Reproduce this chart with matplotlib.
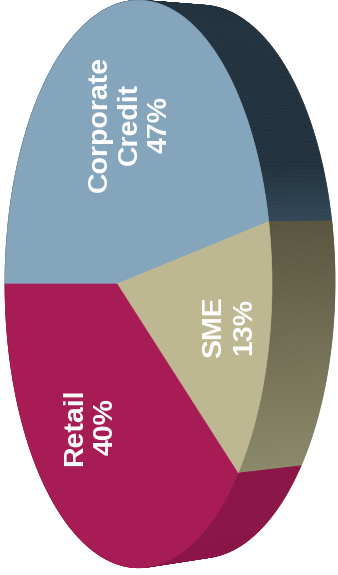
import matplotlib
matplotlib.use("Agg")
import matplotlib.pyplot as plt
from matplotlib.patches import Polygon
from matplotlib.collections import PolyCollection
from matplotlib.colors import to_rgb
import numpy as np

# Portfolio split
segments = ["Corporate\nCredit", "SME", "Retail"]
shares = [47, 13, 40]
face_colors = ["#85a5bd", "#bdb892", "#a81c55"]
# side wall shading: (upper colour, lower colour, y where fade starts, y where it ends)
wall_shading = [("#22333f", "#34495a", 165, 225),
                ("#5a553f", "#8d8b6c", 225, 478),
                ("#8a1546", "#8a1546", 0, 1)]

# label anchors in pie polar coords (angle deg, fraction of radius)
label_polar = [(80, 0.57), (-10, 0.77), (-112, 0.57)]

# geometry of the tilted pie, in pixels
CX, CY = 117, 284       # apex of the slices
RX, RY = 130, 280       # radii before perspective
K = 0.161               # perspective: near (right) side looks bigger
DEPTH_DX = 63           # extrusion to the right
BACK_Y0, BACK_S = 190, 0.974
START = 180             # first slice starts pointing left, runs clockwise


def project(theta, r=1.0):
    t = np.radians(theta)
    u = r * np.cos(t)
    v = r * np.sin(t)
    w = 1 - K * u
    return CX + RX * u / w, CY - RY * v / w


def to_back(x, y):
    return x + DEPTH_DX, BACK_Y0 + BACK_S * (y - BACK_Y0)


def shade(spec, y):
    c1, c2, y1, y2 = spec
    f = np.clip((y - y1) / (y2 - y1), 0, 1)
    a = np.array(to_rgb(c1))
    b = np.array(to_rgb(c2))
    return tuple(a + (b - a) * f)


W, H = 338, 575
fig = plt.figure(figsize=(W / 100, H / 100), dpi=100)
ax = fig.add_axes([0, 0, 1, 1])
ax.set_xlim(0, W)
ax.set_ylim(H, 0)
ax.axis("off")

bounds = START - 360 * np.concatenate([[0], np.cumsum(shares)]) / 100.0

# side walls first, the top face covers the hidden parts
for i in range(len(shares)):
    th = np.linspace(bounds[i], bounds[i + 1], 240)
    fx, fy = project(th)
    bx, by = to_back(fx, fy)
    quads = []
    cols = []
    for j in range(len(th) - 1):
        quads.append([(fx[j], fy[j]), (fx[j + 1], fy[j + 1]),
                      (bx[j + 1], by[j + 1]), (bx[j], by[j])])
        ym = (fy[j] + fy[j + 1] + by[j] + by[j + 1]) / 4
        cols.append(shade(wall_shading[i], ym))
    pc = PolyCollection(quads, facecolors=cols, edgecolors=cols, linewidths=0.6, zorder=1)
    ax.add_collection(pc)

# top face
for i in range(len(shares)):
    th = np.linspace(bounds[i], bounds[i + 1], 240)
    fx, fy = project(th)
    pts = [(CX, CY)] + list(zip(fx, fy))
    ax.add_patch(Polygon(pts, closed=True, facecolor=face_colors[i],
                         edgecolor=face_colors[i], linewidth=0.5, zorder=2))

for name, share, (ang, r) in zip(segments, shares, label_polar):
    lx, ly = project(ang, r)
    ax.text(lx, ly, f"{name}\n{share}%", rotation=90, ha="center", va="center",
            multialignment="center", color="white", fontsize=20.5,
            fontweight="bold", family="Liberation Sans", zorder=4)

fig.savefig("out.png", dpi=100)
